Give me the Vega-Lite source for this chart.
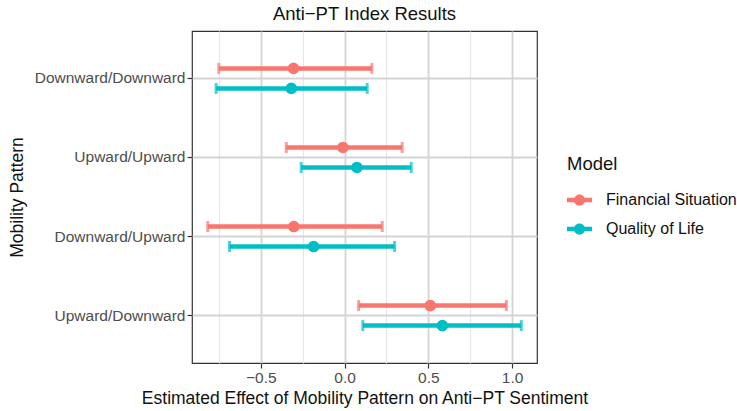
{
  "$schema": "https://vega.github.io/schema/vega-lite/v6.json",
  "autosize": {"type": "none"},
  "padding": {"left": 192, "top": 31, "right": 200, "bottom": 48},
  "width": 345,
  "height": 332,
  "background": "white",
  "title": {"text": "Anti−PT Index Results", "fontSize": 18.5, "fontWeight": "normal", "color": "#111111", "font": "Liberation Sans", "anchor": "middle", "offset": 8},
  "data": {"values": [
    {"Pattern": "Downward/Downward", "Model": "Financial Situation", "est": -0.305, "lo": -0.751, "hi": 0.163},
    {"Pattern": "Downward/Downward", "Model": "Quality of Life", "est": -0.318, "lo": -0.767, "hi": 0.135},
    {"Pattern": "Upward/Upward", "Model": "Financial Situation", "est": -0.01, "lo": -0.348, "hi": 0.344},
    {"Pattern": "Upward/Upward", "Model": "Quality of Life", "est": 0.074, "lo": -0.259, "hi": 0.398},
    {"Pattern": "Downward/Upward", "Model": "Financial Situation", "est": -0.303, "lo": -0.817, "hi": 0.225},
    {"Pattern": "Downward/Upward", "Model": "Quality of Life", "est": -0.185, "lo": -0.687, "hi": 0.299},
    {"Pattern": "Upward/Downward", "Model": "Financial Situation", "est": 0.512, "lo": 0.084, "hi": 0.966},
    {"Pattern": "Upward/Downward", "Model": "Quality of Life", "est": 0.584, "lo": 0.109, "hi": 1.055}
  ]},
  "encoding": {
    "y": {"field": "Pattern", "type": "nominal", "sort": ["Downward/Downward", "Upward/Upward", "Downward/Upward", "Upward/Downward"],
      "scale": {"paddingInner": 0, "paddingOuter": 0.1},
      "axis": {"title": "Mobility Pattern", "bandPosition": 0.5, "grid": true, "titlePadding": 8}},
    "yOffset": {"field": "Model", "type": "nominal", "scale": {"paddingInner": 0, "paddingOuter": 0.975}},
    "color": {"field": "Model", "type": "nominal",
      "scale": {"domain": ["Financial Situation", "Quality of Life"], "range": ["#F8766D", "#00BFC4"]},
      "legend": {"title": "Model", "orient": "none", "legendX": 375, "legendY": 124,
        "symbolType": "M-1,-0.18 L1,-0.18 L1,0.18 L-1,0.18 Z M0.45,0 A0.45,0.45 0 1,1 -0.45,0 A0.45,0.45 0 1,1 0.45,0 Z",
        "symbolSize": 625, "symbolStrokeWidth": 0, "symbolOpacity": 1, "labelOffset": 14, "rowPadding": 8, "titlePadding": 14}}
  },
  "layer": [
    {"mark": {"type": "point", "filled": true, "size": 135, "opacity": 1},
     "encoding": {"x": {"field": "est", "type": "quantitative",
        "scale": {"domain": [-0.911, 1.149], "nice": false, "zero": false},
        "axis": {"title": "Estimated Effect of Mobility Pattern on Anti−PT Sentiment",
          "values": [-0.75, -0.5, -0.25, 0, 0.25, 0.5, 0.75, 1.0],
          "labelExpr": "abs(datum.value*2 - round(datum.value*2)) > 0.01 ? '' : format(datum.value, '.1f')",
          "gridColor": {"condition": {"test": "abs(datum.value*2 - round(datum.value*2)) > 0.01", "value": "#E6E6E6"}, "value": "#D4D4D4"},
          "gridWidth": {"condition": {"test": "abs(datum.value*2 - round(datum.value*2)) > 0.01", "value": 1.2}, "value": 1.8},
          "tickOpacity": {"condition": {"test": "abs(datum.value*2 - round(datum.value*2)) > 0.01", "value": 0}, "value": 1},
          "titlePadding": 4}}}},
    {"mark": {"type": "rule", "strokeWidth": 4.5},
     "encoding": {"x": {"field": "lo", "type": "quantitative"}, "x2": {"field": "hi"}}},
    {"mark": {"type": "tick", "thickness": 3, "size": 11, "orient": "vertical"},
     "encoding": {"x": {"field": "lo", "type": "quantitative"}}},
    {"mark": {"type": "tick", "thickness": 3, "size": 11, "orient": "vertical"},
     "encoding": {"x": {"field": "hi", "type": "quantitative"}}}
  ],
  "config": {
    "view": {"stroke": "#333333", "strokeWidth": 1.2},
    "font": "Liberation Sans",
    "axis": {"domain": false, "tickColor": "#333333", "tickSize": 5, "tickWidth": 1.2,
      "labelColor": "#4D4D4D", "labelFontSize": 15.5, "labelFont": "Liberation Sans", "labelPadding": 2,
      "titleFontSize": 17.5, "titleFontWeight": "normal", "titleColor": "#111111", "titleFont": "Liberation Sans",
      "gridColor": "#D4D4D4", "gridWidth": 1.8},
    "legend": {"titleFontSize": 18.5, "titleFontWeight": "normal", "titleColor": "#111111", "labelFontSize": 16, "labelColor": "#111111", "titleFont": "Liberation Sans", "labelFont": "Liberation Sans"}
  }
}
